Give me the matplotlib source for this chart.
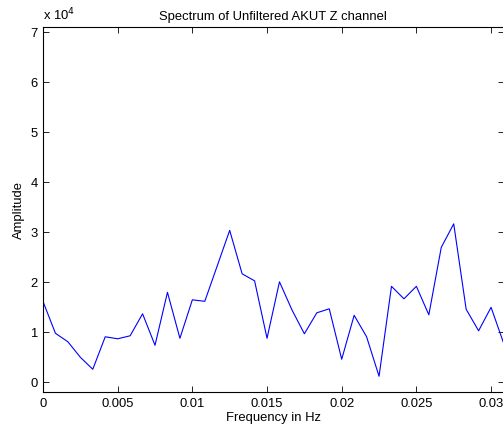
import matplotlib
matplotlib.use("Agg")
import matplotlib.pyplot as plt

plt.rcParams['font.family'] = ['Liberation Sans', 'DejaVu Sans']

# Frequency bins (step 1/1200 Hz)
bin_index = list(range(38))
freq_step = 1.0 / 1200.0
freq = [i * freq_step for i in bin_index]

amplitude = [16160, 9800, 8100, 5000, 2600, 9100, 8700, 9300, 13700, 7400,
             18000, 8800, 16500, 16200, 23300, 30400, 21700, 20300, 8800, 20100,
             14500, 9700, 13900, 14700, 4600, 13400, 9100, 1200, 19200, 16700,
             19200, 13500, 27000, 31700, 14600, 10300, 15000, 7900]

x_ticks = [0, 0.005, 0.01, 0.015, 0.02, 0.025, 0.03]
x_tick_labels = ['0', '0.005', '0.01', '0.015', '0.02', '0.025', '0.03']
y_ticks = [0, 10000, 20000, 30000, 40000, 50000, 60000, 70000]
y_tick_labels = ['0', '1', '2', '3', '4', '5', '6', '7']

fs = 9.4
fig = plt.figure(figsize=(5.03, 4.30), dpi=100)
ax = fig.add_axes([43/503, 38/430, 1 - 43/503 + 0.001, (392-27)/430])
ax.plot(freq, amplitude, color=(0, 0, 1), linewidth=0.8)

ax.set_xlim(0, freq[-1])
ax.set_ylim(-1950, 71100)
ax.set_xticks(x_ticks)
ax.set_xticklabels(x_tick_labels)
ax.set_yticks(y_ticks)
ax.set_yticklabels(y_tick_labels)

ax.tick_params(direction='in', top=True, right=True, length=4, width=0.6,
               labelsize=fs, pad=4, colors='black')
for s in ax.spines.values():
    s.set_linewidth(0.8)

ax.set_title('Spectrum of Unfiltered AKUT Z channel', fontsize=fs, pad=5)
ax.set_xlabel('Frequency in Hz', fontsize=fs, labelpad=2)
ax.set_ylabel('Amplitude', fontsize=fs, labelpad=4)
fig.text(43/503, 1 - 20/430, r'x 10$^4$', fontsize=fs, ha='left', va='baseline')

fig.savefig('out.png', dpi=100)
